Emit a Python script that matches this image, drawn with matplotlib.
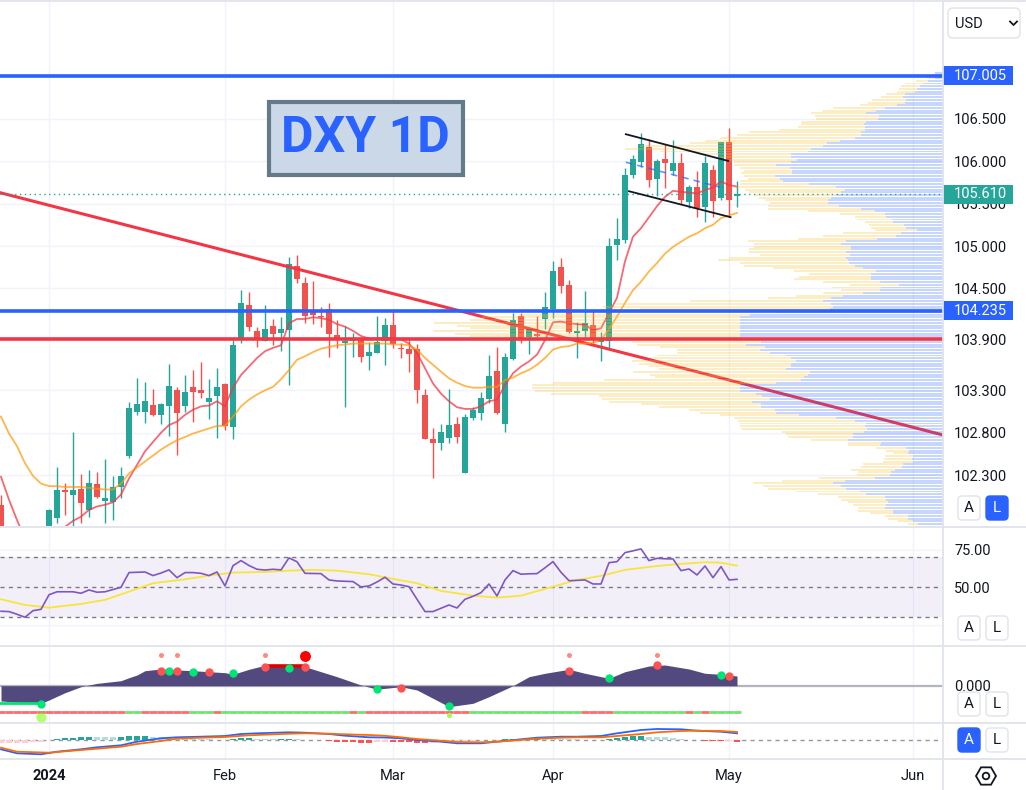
import numpy as np
import pandas as pd
import matplotlib
matplotlib.use('Agg')
import matplotlib.pyplot as plt
import matplotlib.transforms as mtransforms
from matplotlib.patches import Rectangle, FancyBboxPatch, RegularPolygon, Circle

plt.rcParams['font.family'] = ['Roboto', 'DejaVu Sans']

#### data ####
# daily sessions shown (no bars on the holidays)
dates = pd.bdate_range('2023-12-21', '2024-05-02')
dates = dates.drop(pd.to_datetime(['2023-12-25', '2024-01-01', '2024-03-29']))
bar_k = np.arange(len(dates)) - 6          # 0 = first session of 2024
nan = np.nan

opens = [101.95, nan, nan, nan, nan, nan,
         101.40, 101.80, 102.13, 102.07, 102.14, 101.89, 102.20, 102.00, 101.98, 102.16,
         102.53, 103.04, 103.04, 103.13, 103.01, 103.12, 103.30, 103.12, 103.34, 103.30,
         103.16, 103.23, 103.37, 102.87, 103.92, 104.31, 104.00, 103.88, 104.06, 103.98,
         104.01, 104.77, 104.56, 104.25, 104.18, 104.26, 103.95, 103.86, 103.88, 103.90,
         103.70, 103.74, 103.88, 104.07, 103.80, 103.79, 103.79, 103.24, 102.72, 102.68,
         102.74, 102.90, 102.33, 102.97, 103.03, 103.20, 103.53, 102.90, 103.67, 104.18,
         103.93, 103.96, 104.14, 104.26, 104.75, 104.54, 103.98, 104.00, 104.07, 103.87,
         103.88, 105.01, 105.07, 105.84, 105.99, 106.17, 105.79, 106.02, 105.89, 105.98,
         105.52, 105.70, 105.46, 105.90, 105.57, 106.23, 105.59]
highs = [102.07, nan, nan, nan, nan, nan,
         101.90, 102.40, 102.21, 102.81, 102.31, 102.36, 102.34, 102.49, 102.29, 102.39,
         103.16, 103.45, 103.40, 103.32, 103.15, 103.61, 103.34, 103.48, 103.54, 103.63,
         103.43, 103.56, 103.38, 103.89, 104.48, 104.46, 104.04, 104.31, 104.14, 104.16,
         104.87, 104.89, 104.64, 104.59, 104.28, 104.33, 104.13, 104.06, 103.98, 103.93,
         103.87, 104.18, 104.15, 104.25, 103.86, 103.89, 103.85, 103.32, 102.85, 102.90,
         103.32, 102.99, 103.02, 103.10, 103.28, 103.72, 103.81, 103.74, 104.21, 104.21,
         104.05, 104.17, 104.46, 104.82, 104.86, 104.60, 104.11, 104.47, 104.23, 103.99,
         105.09, 105.33, 105.92, 106.07, 106.33, 106.26, 106.03, 106.20, 106.25, 106.10,
         105.72, 105.89, 106.06, 105.96, 106.23, 106.39, 105.77]
lows = [101.40, nan, nan, nan, nan, nan,
        101.33, 101.74, 101.83, 101.69, 101.74, 101.81, 102.03, 101.74, 101.77, 102.03,
        102.50, 103.01, 102.91, 103.00, 102.90, 102.76, 102.54, 103.04, 102.93, 103.21,
        102.96, 102.74, 102.83, 102.73, 103.86, 104.00, 103.81, 103.88, 103.83, 103.76,
        103.36, 104.56, 104.09, 104.08, 104.05, 103.69, 103.80, 103.10, 103.69, 103.63,
        103.54, 103.74, 103.60, 103.80, 103.68, 103.52, 103.15, 102.73, 102.27, 102.59,
        102.68, 102.68, 102.33, 102.95, 102.95, 103.15, 103.02, 102.81, 103.66, 103.86,
        103.73, 103.93, 104.02, 104.15, 104.45, 103.98, 103.68, 103.93, 103.86, 103.65,
        103.80, 104.84, 105.04, 105.80, 105.93, 105.70, 105.59, 105.68, 105.84, 105.50,
        105.45, 105.34, 105.28, 105.34, 105.54, 105.34, 105.46]
closes = [101.55, nan, nan, nan, nan, nan,
          101.89, 102.13, 102.10, 102.13, 101.97, 102.21, 102.04, 102.03, 102.16, 102.29,
          103.09, 103.14, 103.17, 103.01, 103.14, 103.35, 103.03, 103.28, 103.28, 103.27,
          103.21, 103.34, 102.88, 103.83, 104.33, 104.04, 103.92, 104.02, 103.96, 104.02,
          104.79, 104.61, 104.18, 104.19, 104.16, 103.96, 103.90, 103.88, 103.89, 103.69,
          103.75, 103.87, 104.07, 103.85, 103.79, 103.73, 103.30, 102.73, 102.68, 102.81,
          102.89, 102.75, 102.99, 103.07, 103.21, 103.47, 103.03, 103.69, 104.13, 103.91,
          104.02, 103.94, 104.28, 104.71, 104.53, 103.99, 104.00, 104.09, 103.89, 103.89,
          105.00, 105.08, 105.84, 106.02, 106.20, 105.78, 106.00, 105.98, 105.98, 105.54,
          105.69, 105.45, 105.98, 105.53, 106.23, 105.54, 105.61]

ema_fast = [102.28, 102.01, 101.77, 101.55, 101.45, 101.40,
            101.45, 101.55, 101.69, 101.76, 101.81, 101.89, 101.93, 101.95, 101.98, 102.07,
            102.26, 102.42, 102.58, 102.69, 102.80, 102.89, 102.93, 103.01, 103.07, 103.11,
            103.12, 103.17, 103.11, 103.33, 103.48, 103.58, 103.68, 103.76, 103.80, 103.83,
            104.09, 104.14, 104.14, 104.16, 104.15, 104.13, 104.08, 104.05, 104.00, 103.94,
            103.91, 103.91, 103.92, 103.91, 103.90, 103.85, 103.74, 103.56, 103.38, 103.26,
            103.17, 103.10, 103.08, 103.08, 103.11, 103.17, 103.19, 103.36, 103.50, 103.58,
            103.64, 103.72, 103.89, 104.10, 104.11, 104.09, 104.08, 104.07, 104.01, 104.03,
            104.21, 104.39, 104.82, 105.11, 105.21, 105.34, 105.47, 105.58, 105.65, 105.64,
            105.63, 105.62, 105.66, 105.69, 105.76, 105.72, 105.70]
ema_slow = [102.99, 102.79, 102.64, 102.44, 102.29, 102.20,
            102.17, 102.17, 102.16, 102.16, 102.16, 102.15, 102.14, 102.13, 102.13, 102.20,
            102.32, 102.39, 102.46, 102.53, 102.60, 102.66, 102.71, 102.75, 102.79, 102.82,
            102.85, 102.88, 102.88, 102.99, 103.11, 103.19, 103.25, 103.30, 103.34, 103.43,
            103.54, 103.66, 103.70, 103.75, 103.79, 103.81, 103.83, 103.84, 103.85, 103.85,
            103.85, 103.85, 103.85, 103.84, 103.84, 103.83, 103.78, 103.68, 103.60, 103.52,
            103.44, 103.39, 103.35, 103.33, 103.33, 103.34, 103.34, 103.42, 103.45, 103.50,
            103.54, 103.60, 103.68, 103.78, 103.81, 103.82, 103.85, 103.85, 103.86, 103.89,
            104.02, 104.17, 104.33, 104.48, 104.58, 104.70, 104.80, 104.91, 104.99, 105.05,
            105.11, 105.15, 105.21, 105.25, 105.33, 105.36, 105.39]

price_ticks = [106.5, 106.0, 105.5, 105.0, 104.5, 103.9, 103.3, 102.8, 102.3]
blue_levels = [107.005, 104.235]
red_level = 103.9
last_price = 105.61
trend_k = [-6, 110]
trend_p = [105.626, 102.815]
chan_up_k, chan_up_p = [72.1, 84.9], [106.318, 106.003]
chan_lo_k, chan_lo_p = [72.5, 85.2], [105.646, 105.340]
chan_mid_k, chan_mid_p = [72.1, 83.9], [105.988, 105.693]

# visible range volume profile, rows from the top (107.04) down
vp_top, vp_step = 107.044, 0.03206
vp_up = [8, 9, 8, 15, 20, 23, 26, 28, 38, 40, 37, 38, 46, 58, 67, 77, 64, 65, 77, 79,
         78, 78, 82, 82, 88, 103, 116, 120, 132, 135, 152, 152, 146, 152, 167, 153, 151, 151, 168, 163,
         160, 134, 107, 98, 102, 107, 112, 115, 115, 104, 82, 68, 58, 57, 51, 50, 39, 37, 26, 42,
         47, 66, 97, 102, 92, 92, 97, 93, 97, 95, 94, 88, 80, 67, 72, 72, 72, 63, 44, 62,
         63, 80, 100, 112, 120, 112, 110, 113, 167, 193, 203, 203, 203, 203, 203, 203, 203, 203, 195, 182,
         197, 178, 183, 173, 157, 152, 147, 152, 152, 157, 133, 135, 139, 142, 167, 203, 203, 203, 187, 181,
         173, 191, 182, 182, 168, 167, 144, 107, 88, 77, 78, 76, 79, 90, 90, 95, 62, 63, 37, 34,
         35, 30, 31, 30, 40, 41, 48, 52, 53, 68, 98, 110, 102, 97, 83, 77, 58, 57, 55, 57,
         58, 50, 50, 35, 35, 30, 25]
vp_down = [0, 3, 8, 12, 18, 19, 18, 18, 19, 22, 34, 37, 37, 52, 54, 55, 64, 62, 65, 63,
           67, 86, 112, 124, 135, 135, 137, 183, 186, 148, 92, 72, 68, 57, 42, 50, 48, 51, 31, 32,
           43, 69, 100, 100, 92, 82, 72, 63, 58, 71, 93, 67, 45, 31, 35, 28, 35, 35, 42, 58,
           73, 79, 98, 87, 97, 102, 97, 90, 117, 130, 109, 111, 90, 82, 62, 72, 77, 57, 49, 49,
           39, 40, 47, 63, 133, 215, 230, 190, 177, 231, 258, 270, 306, 283, 270, 307, 285, 270, 201, 129,
           109, 105, 83, 93, 129, 137, 164, 152, 142, 127, 177, 158, 149, 197, 223, 208, 208, 205, 205, 163,
           168, 143, 120, 102, 86, 76, 79, 102, 117, 127, 125, 126, 82, 67, 65, 37, 33, 32, 30, 23,
           15, 28, 28, 30, 40, 41, 44, 33, 33, 56, 63, 80, 78, 78, 64, 48, 47, 45, 40, 33,
           27, 35, 23, 23, 20, 15, 10]

rsi = [34, 33.8, 32, 30, 34.4, 35.3,
       45, 47, 47, 47, 46, 48.2, 46.7, 47, 48.5, 50,
       59.8, 60, 60.2, 57.8, 59.5, 61.6, 56.4, 59.8, 59.8, 59.3,
       57.8, 60.2, 50.9, 64.4, 67.8, 64.5, 62, 61.5, 62, 61.6,
       69.6, 67, 59.3, 59.2, 59.1, 54.9, 54.2, 54, 53.8, 50.2,
       50.9, 53.5, 56.7, 52.2, 51.5, 50.4, 42, 33.8, 33.8, 36,
       38.2, 36.2, 42, 44, 46.4, 52.2, 44.2, 54.9, 61.1, 58.7,
       59, 59.1, 63, 67.1, 60, 54.4, 54.6, 54.9, 52.2, 52.2,
       66.4, 67.1, 73.1, 74.3, 75.6, 67.8, 69.3, 69, 68.9, 61.1,
       62.2, 58.2, 64.2, 56.4, 63.8, 54.9, 55.3]
rsi_ma_k = [-6, -3, 0, 4, 7, 10, 13, 17, 20, 23, 27, 30, 33, 36, 40,
            43, 46, 49, 53, 56, 59, 63, 66, 69, 72, 76, 79, 82, 84, 86]
rsi_ma = [42, 38.2, 36.4, 38.9, 41.6, 47.1, 52.7, 55.3, 57.8, 59.8, 60.2, 61.1, 61.6, 61.1, 58.7,
          55.6, 52.7, 47.6, 44.4, 43.1, 44.4, 50.4, 54.9, 57.6, 61.6, 64.2, 65.6, 66.7, 66.4, 64.4]

# wave oscillator (lower pane)
wave_k = [-6, -4, -1, 0, 2, 4, 6, 9, 10, 11, 12, 14, 16, 18, 20, 22, 23, 25, 27, 30, 32, 34,
          36, 39, 41, 44, 46, 48, 50, 53, 55, 58, 60, 62, 65, 67, 70, 72, 75, 77, 80, 82, 84, 86]
wave_v = [-15.3, -16.5, -17.6, -14.3, -7, -1, 2.3, 5, 8, 10.7, 15, 16.7, 15.7, 15, 14, 13, 11.4,
          16.4, 20.4, 20.7, 19, 14, 9, 0.7, -3.5, -1, -4.3, -12.6, -21, -17.6, -11, 0, 9, 12.4,
          16.4, 12.4, 7.4, 14, 19.7, 20.7, 16.7, 12.4, 11.4, 9.7]
wave_dots = [(-1, -18.3, 'g'), (-1, -31, 'halo'), (14, 30.7, 'p'), (16, 30.7, 'p'), (14, 15, 'r'),
             (15, 15, 'g'), (16, 15, 'r'), (18, 14, 'g'), (20, 14, 'r'), (23, 12.4, 'g'),
             (27, 30.7, 'p'), (27, 19, 'r'), (30, 17.4, 'g'), (32, 29.7, 'R'), (32, 18.4, 'r'),
             (41, -3.6, 'g'), (44, -2.6, 'r'), (50, -20.3, 'g'), (50, -29.3, 'halo_s'),
             (65, 30.7, 'p'), (65, 15, 'r'), (70, 7.4, 'g'), (76, 30.7, 'p'), (76, 20.7, 'r'),
             (84, 10.7, 'g'), (85, 9.7, 'r')]
div_k, div_v = [27.25, 32], [19.7, 19.7]
flat_k, flat_v = [-6.2, -1], [-16.8, -16.8]
state_level = -26.3
wave_state = ('r' * 16 + 'g' * 2 + 'r' * 6 + 'g' * 3 + 'r' + 'g' * 16 + 'r' + 'g' + 'r' * 13 +
              'g' * 14 + 'r' * 4 + 'g' * 9 + 'r' + 'g' + 'r' + 'g' * 4)

macd_k = [-6, -4, -1, 1, 4, 6, 9, 11, 14, 16, 19, 22, 24, 26, 30, 32, 35, 37, 40, 42,
          44, 46, 49, 51, 54, 56, 59, 61, 64, 66, 69, 71, 74, 76, 79, 81, 84, 86]
macd = [-9.3, -13.3, -14.3, -11.7, -9.3, -7.3, -5.3, -1.7, 1.7, 2.7, 3.3, 4, 6, 6.7, 7.7, 7.3,
        6, 4.3, 2.7, 2.5, 1.7, 0, -1.7, -3.3, -3.3, -1.7, 0.7, 2.3, 3.3, 3.3, 4, 6.7, 10, 11,
        10.7, 9.3, 8.3, 6.7]
signal_k = [-6, -4, 0, 4, 6, 9, 11, 14, 16, 19, 22, 25, 30, 32, 35, 37, 40, 42,
            44, 46, 49, 51, 54, 56, 59, 61, 64, 66, 69, 71, 74, 76, 79, 81, 84, 86]
signal = [-7.7, -11.7, -12.7, -10, -8.7, -6.7, -4, -1, 1.3, 2.3, 3, 4.7, 6.3, 6.7, 6.3, 5.7,
          5, 4.2, 2.7, 1, -0.7, -2, -2.3, -1.7, 0, 1.3, 2.3, 2.7, 2.7, 4, 6, 7.7, 9, 9.3, 9, 8]
hist = [-3.3, -3.3, -3.3, -3.0, -2.3, -1.5,
        0.5, 1.3, 2.0, 2.3, 2.7, 3.0, 3.0, 2.9, 2.8, 3.5, 4.0, 4.2, 4.3, 3.3, 2.7, 1.8,
        1.4, 1.1, 1.0, 0.8, 0.6, 0.4, 0.3, 1.0, 1.8, 2.2, 1.5, 1.0, 0.7, 0.9, 1.2, 0.8,
        0.5, 0.3, 0.1, -0.8, -1.5, -2.0, -2.4, -2.6, -2.7, -2.0, -1.6, -1.8, -2.1, -2.4,
        -2.7, -2.9, -2.5, -2.0, -1.5, -1.1, -0.8, -0.5, -0.3, -0.2, 0.3, 0.7, 1.0, 1.2,
        1.4, 1.5, 1.3, 1.2, 1.0, 0.9, 0.7, 0.5, 0.3, 0.2, 1.0, 2.0, 3.0, 3.7, 4.0, 3.3,
        3.0, 2.7, 1.7, 0.8, 0.4, 0.2, -0.7, -1.0, -1.3, -1.3, -1.7]

month_labels = ['2024', 'Feb', 'Mar', 'Apr', 'May', 'Jun']
month_k = [int(bar_k[np.argmax((dates.year == 2024) & (dates.month == m))]) for m in [1, 2, 3, 4, 5]]
month_k.append(int(bar_k[-1]) + len(pd.bdate_range(dates[-1] + pd.Timedelta(days=1), '2024-06-03')))

#### colours ####
UP, DOWN = '#26a69a', '#ef5350'
BLUE = '#2962ff'
GRID = '#f0f3fa'
SEP = '#e0e3eb'
TXT = '#131722'

#### figure ####
W, H = 1026.0, 790.0
fig = plt.figure(figsize=(W / 100, H / 100), dpi=100)

def panel(top, bottom):
    return fig.add_axes([0, 1 - bottom / H, 943 / W, (bottom - top) / H])

ax = panel(0, 526)
ax_rsi = panel(527, 645)
ax_wt = panel(646, 722)
ax_macd = panel(723, 758)
xlim = (-6.125, 111.75)

for a in (ax, ax_rsi, ax_wt, ax_macd):
    for s in a.spines.values():
        s.set_visible(False)
    a.set_xlim(*xlim)
    a.set_xticks([])
    a.yaxis.tick_right()
    a.tick_params(axis='y', length=0, pad=8, labelsize=10.5, labelcolor=TXT)
    for mk in month_k:
        a.axvline(mk, color=GRID, lw=1, zorder=0)

# ---- price pane ----
for p in price_ticks:
    ax.axhline(p, color=GRID, lw=1, zorder=0)
ax.set_yticks(price_ticks)
ax.set_yticklabels(['%.3f' % p for p in price_ticks])

o = np.array(opens); h = np.array(highs); l = np.array(lows); c = np.array(closes)
ok = ~np.isnan(o)
col = np.where(c >= o, UP, DOWN)
ax.vlines(bar_k[ok], l[ok], h[ok], colors=col[ok], lw=1, zorder=2)
body = np.maximum(np.abs(c - o), 0.012)
ax.bar(bar_k[ok], body[ok], bottom=np.minimum(o, c)[ok], width=0.68, color=col[ok], lw=0, zorder=2)

ax.axline((trend_k[0], trend_p[0]), (trend_k[1], trend_p[1]), color='#f23645', lw=2.2, zorder=2.5)
ax.plot(bar_k, ema_fast, color='#f23645', lw=1.3, alpha=0.75, zorder=2.6)
ax.plot(bar_k, ema_slow, color='#ff9800', lw=1.3, alpha=0.7, zorder=2.6)

# volume profile anchored at the right edge of the pane
vp_span = 943.0
to_axes = mtransforms.Affine2D().scale(-1.0 / vp_span, 1.0).translate(1.0, 0.0)
tr_vp = mtransforms.blended_transform_factory(to_axes + ax.transAxes, ax.transData)
rows = vp_top - vp_step * np.arange(len(vp_up))
up = np.array(vp_up, float); dn = np.array(vp_down, float)
ax.barh(rows, up, left=0, height=vp_step * 0.72, color=BLUE, alpha=0.26, lw=0,
        transform=tr_vp, zorder=3)
ax.barh(rows, dn, left=up, height=vp_step * 0.72, color='#fbc02d', alpha=0.28, lw=0,
        transform=tr_vp, zorder=3)

for lv in blue_levels:
    ax.axhline(lv, color=BLUE, lw=2.6, zorder=5)
ax.axhline(red_level, color='#f23645', lw=2.6, zorder=5)
ax.axhline(last_price, color=UP, lw=1, ls=(0, (1, 2.5)), zorder=5)
ax.plot(chan_up_k, chan_up_p, color=TXT, lw=1.3, zorder=5)
ax.plot(chan_lo_k, chan_lo_p, color=TXT, lw=1.3, zorder=5)
ax.plot(chan_mid_k, chan_mid_p, color=BLUE, lw=1.2, ls=(0, (4, 3)), alpha=0.7, zorder=5)

# title note
ax.add_patch(Rectangle((27.5, 105.838), 24.25, 0.861, fc='#cbd8e8', ec='#637a88', lw=3, zorder=6))
ax.text(39.6, 106.262, 'DXY 1D', ha='center', va='center', fontsize=36, fontweight='bold',
        color=BLUE, zorder=7)

ax.set_ylim(101.70, 107.90)
ax.set_xlim(*xlim)

# boxed price labels on the scale
ytr = ax.get_yaxis_transform()
for val, fc in [(107.005, BLUE), (104.235, BLUE), (last_price, UP)]:
    ax.add_patch(Rectangle((1.0, val - 0.112), 70 / 943, 0.224, transform=ytr, fc=fc, ec='none',
                           clip_on=False, zorder=10))
    ax.text(1.0 + 11 / 943, val, '%.3f' % val, transform=ytr, color='white', fontsize=10.5,
            va='center', ha='left', zorder=11, clip_on=False)

# ---- RSI pane ----
ax_rsi.axhspan(30, 70, color='#7e57c2', alpha=0.09, lw=0, zorder=0)
for lv in (75, 25):
    ax_rsi.axhline(lv, color=GRID, lw=1, zorder=0)
for lv in (70, 50, 30):
    ax_rsi.axhline(lv, color='#787b86', lw=1, ls=(0, (3, 3)), zorder=1)
ax_rsi.plot(bar_k, rsi, color='#7e57c2', lw=1.2, zorder=3)
ax_rsi.plot(rsi_ma_k, rsi_ma, color='#f9e43b', lw=1.3, zorder=2)
ax_rsi.set_ylim(11.5, 90.2)
ax_rsi.set_yticks([75, 50])
ax_rsi.set_yticklabels(['75.00', '50.00'])

# ---- wave pane ----
ax_wt.axhline(0, color='#b2b5be', lw=1.6, zorder=1)
ax_wt.fill_between(wave_k, 0, wave_v, color='#524a7e', lw=0, zorder=2)
ax_wt.plot(flat_k, flat_v, color='#00e676', lw=2, zorder=3)
ax_wt.plot(div_k, div_v, color='#e00000', lw=2.6, zorder=3)
state_col = ['#ff6b6b' if s == 'r' else '#6ee56e' for s in wave_state]
ax_wt.hlines([state_level] * len(bar_k), bar_k - 0.5, bar_k + 0.5, colors=state_col, lw=2, zorder=3)
dot_style = {'g': dict(s=36, c='#00e676'), 'r': dict(s=36, c='#ff5252'),
             'p': dict(s=13, c='#ff8a80'), 'R': dict(s=62, c='#ff0000'),
             'halo': dict(s=55, c='#76ff03', alpha=0.55), 'halo_s': dict(s=14, c='#9cff57')}
for dk, dv, kind in wave_dots:
    ax_wt.scatter([dk], [dv], lw=0, zorder=4, **dot_style[kind])
ax_wt.set_ylim(-36.3, 39.7)
ax_wt.set_yticks([0])
ax_wt.set_yticklabels(['0.000'])

# ---- MACD pane ----
hv = np.array(hist)
prev = np.concatenate([[hv[0]], hv[:-1]])
hcol = np.where(hv >= 0, np.where(hv > prev, '#26a69a', '#b2dfdb'),
                np.where(hv < prev, '#ff5252', '#ffcdd2'))
ax_macd.axhline(0, color='#9598a1', lw=1, ls=(0, (3, 3)), zorder=1)
ax_macd.bar(bar_k, hv, width=0.75, color=hcol, lw=0, zorder=2)
ax_macd.plot(macd_k, macd, color=BLUE, lw=1.3, zorder=3)
ax_macd.plot(signal_k, signal, color='#ff6d00', lw=1.3, zorder=3)
ax_macd.set_ylim(-18, 17)
ax_macd.set_yticks([])
ax_macd.set_xticks(month_k)
ax_macd.set_xticklabels(month_labels)
ax_macd.tick_params(axis='x', length=0, pad=8, labelsize=10.5, labelcolor=TXT)
ax_macd.get_xticklabels()[0].set_fontweight('bold')
ax_macd.set_xlim(*xlim)

# ---- chrome: separators, scale buttons ----
ov = fig.add_axes([0, 0, 1, 1], zorder=20)
ov.set_xlim(0, W); ov.set_ylim(H, 0); ov.axis('off'); ov.patch.set_alpha(0)
ov.hlines([1, 526.5, 645.5, 722.5, 758.5], 0, W, color=SEP, lw=1.3)
ov.vlines(943, 0, H, color=SEP, lw=1.3)

def button(x, y, txt, active):
    ov.add_patch(FancyBboxPatch((x, y), 22, 24, boxstyle='round,pad=0,rounding_size=4',
                                fc=BLUE if active else 'white', ec=BLUE if active else SEP, lw=1))
    ov.text(x + 11, y + 12.5, txt, ha='center', va='center', fontsize=11,
            color='white' if active else TXT)

for y, act in [(496, 'L'), (616, ''), (692, ''), (728, 'A')]:
    button(958, y, 'A', act == 'A')
    button(986, y, 'L', act == 'L')

ov.add_patch(FancyBboxPatch((948, 8), 72, 30, boxstyle='round,pad=0,rounding_size=5',
                            fc='white', ec=SEP, lw=1))
ov.text(955, 23.5, 'USD', ha='left', va='center', fontsize=10.5, color=TXT)
ov.plot([1010, 1013.5, 1017], [21.5, 25, 21.5], color=TXT, lw=1.3)
ov.add_patch(RegularPolygon((986, 776), 6, radius=10, orientation=np.pi / 6, fill=False,
                            ec=TXT, lw=1.3))
ov.add_patch(Circle((986, 776), 3.3, fill=False, ec=TXT, lw=1.3))

fig.savefig('out.png', dpi=100)
